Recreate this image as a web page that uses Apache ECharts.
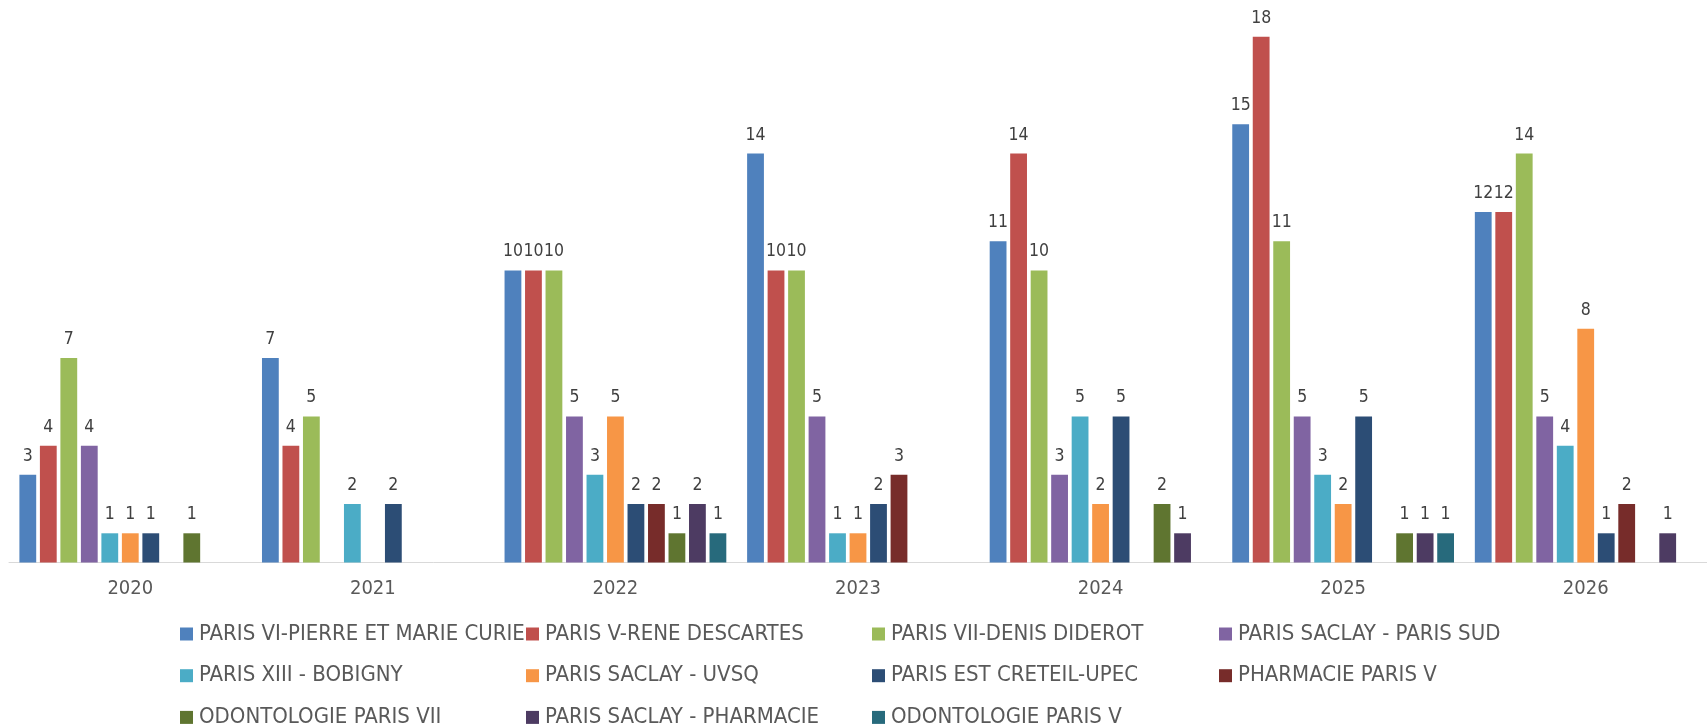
<!DOCTYPE html>
<html>
<head>
<meta charset="utf-8">
<script src="https://cdn.jsdelivr.net/npm/echarts@6/dist/echarts.min.js"></script>
<style>
html,body{margin:0;padding:0;background:#fff;}
#c{width:1707px;height:726px;}
</style>
</head>
<body>
<div id="c"></div>
<script>
const categories = ['2020','2021','2022','2023','2024','2025','2026'];
const seriesNames = [
  'PARIS VI-PIERRE ET MARIE CURIE',
  'PARIS V-RENE DESCARTES',
  'PARIS VII-DENIS DIDEROT',
  'PARIS SACLAY - PARIS SUD',
  'PARIS XIII - BOBIGNY',
  'PARIS SACLAY - UVSQ',
  'PARIS EST CRETEIL-UPEC',
  'PHARMACIE PARIS V',
  'ODONTOLOGIE PARIS VII',
  'PARIS SACLAY - PHARMACIE',
  'ODONTOLOGIE PARIS V'
];
const parisVI       = [3, 7, 10, 14, 11, 15, 12];
const parisV        = [4, 4, 10, 10, 14, 18, 12];
const parisVII      = [7, 5, 10, 10, 10, 11, 14];
const saclaySud     = [4, null, 5, 5, 3, 5, 5];
const parisXIII     = [1, 2, 3, 1, 5, 3, 4];
const saclayUvsq    = [1, null, 5, 1, 2, 2, 8];
const creteil       = [1, 2, 2, 2, 5, 5, 1];
const pharmaV       = [null, null, 2, 3, null, null, 2];
const odontoVII     = [1, null, 1, null, 2, 1, null];
const saclayPharma  = [null, null, 2, null, 1, 1, 1];
const odontoV       = [null, null, 1, null, null, 1, null];

const seriesData = [parisVI, parisV, parisVII, saclaySud, parisXIII, saclayUvsq, creteil, pharmaV, odontoVII, saclayPharma, odontoV];
const colors = ['#4F81BD','#C0504D','#9BBB59','#8064A2','#4BACC6','#F79646','#2C4D75','#772C2A','#5F7530','#4D3B62','#276A7C'];

const FONT = "'Liberation Sans Narrow','DejaVu Sans Condensed','Liberation Sans',sans-serif";

const chart = echarts.init(document.getElementById('c'), null, {renderer:'canvas'});

const colLefts = [180, 526, 872, 1219];
const legends = seriesNames.map((name, i) => ({
  orient: 'horizontal',
  left: colLefts[i % 4],
  top: 623 + Math.floor(i / 4) * 41.7,
  padding: 0,
  itemWidth: 13,
  itemHeight: 13,
  icon: 'rect',
  selectedMode: false,
  data: [name],
  textStyle: {color:'#595959', fontSize: 22, fontFamily: FONT, lineHeight: 22, padding:[0,0,0,1]}
}));

const option = {
  animation: false,
  color: colors,
  legend: legends,
  grid: {left: 9, width: 1712, top: 7.5, height: 555, containLabel: false},
  xAxis: {
    type: 'category',
    data: categories,
    axisLine: {lineStyle: {color: '#D9D9D9', width: 1}},
    axisTick: {show: false},
    axisLabel: {color: '#595959', fontSize: 20, fontFamily: FONT, margin: 16}
  },
  yAxis: {
    type: 'value', min: 0, max: 19,
    show: false,
    splitLine: {show: false}
  },
  series: seriesNames.map((name, i) => ({
    name: name,
    type: 'bar',
    data: seriesData[i],
    barWidth: 16.8,
    barGap: '22%',
    itemStyle: {color: colors[i]},
    label: {show: true, position: 'top', distance: 9.5, color: '#404040', fontSize: 17.5, fontFamily: FONT}
  }))
};
chart.setOption(option);
</script>
</body>
</html>
